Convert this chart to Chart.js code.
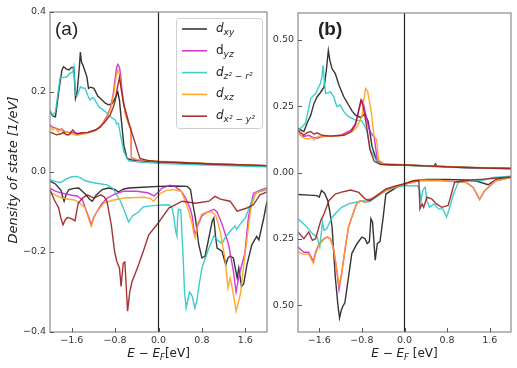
<!DOCTYPE html>
<html>
<head>
<meta charset="utf-8">
<script src="https://cdn.jsdelivr.net/npm/chart.js@4"></script>
<style>
  body { margin: 0; background: #fff; width: 517px; height: 368px; position: relative; overflow: hidden; }
  #chartA { position: absolute; left: 0; top: 0; }
  #chartB { position: absolute; left: 270px; top: 0; }
</style>
</head>
<body>
<canvas id="chartA" width="270" height="368"></canvas>
<canvas id="chartB" width="247" height="368"></canvas>
<script>
// axes
const xTicks = [-1.6, -0.8, 0.0, 0.8, 1.6];
const yTicksA = [-0.4, -0.2, 0.0, 0.2, 0.4];
const yTicksB = [-0.5, -0.25, 0.0, 0.25, 0.5];

// legend entries: d + subscript
const orbitals = [
  { main: 'd', sub: 'xy', italic: true, color: 'rgba(25,25,25,0.88)' },
  { main: 'd', sub: 'yz', italic: false, color: 'rgba(210,30,210,0.88)' },
  { main: 'd', sub: 'z² − r²', italic: true, color: 'rgba(40,200,200,0.9)' },
  { main: 'd', sub: 'xz', italic: true, color: 'rgba(255,160,20,0.9)' },
  { main: 'd', sub: 'x² − y²', italic: true, color: 'rgba(150,25,25,0.88)' }
];

// ---- panel (a), spin up  [E - EF, DOS] ----
const aXyUp = [[-2.0,0.151],[-1.95,0.14],[-1.90,0.138],[-1.84,0.2],[-1.78,0.255],[-1.75,0.263],[-1.70,0.258],[-1.65,0.255],[-1.6,0.262],[-1.56,0.26],[-1.53,0.184],[-1.50,0.2],[-1.46,0.26],[-1.44,0.30],[-1.42,0.275],[-1.39,0.266],[-1.35,0.25],[-1.32,0.238],[-1.29,0.209],[-1.25,0.212],[-1.19,0.209],[-1.12,0.19],[-1.04,0.18],[-0.98,0.172],[-0.92,0.168],[-0.86,0.17],[-0.83,0.176],[-0.78,0.19],[-0.75,0.20],[-0.72,0.18],[-0.70,0.151],[-0.64,0.068],[-0.58,0.034],[-0.5,0.03],[-0.2,0.027],[0.0,0.025],[0.5,0.022],[1.0,0.019],[1.5,0.017],[2.0,0.015]];
const aYzUp = [[-2.0,0.118],[-1.95,0.112],[-1.88,0.109],[-1.82,0.105],[-1.79,0.108],[-1.72,0.1],[-1.65,0.099],[-1.5,0.097],[-1.42,0.097],[-1.3,0.099],[-1.16,0.105],[-1.08,0.112],[-1.01,0.126],[-0.95,0.14],[-0.89,0.159],[-0.84,0.19],[-0.80,0.234],[-0.77,0.262],[-0.75,0.269],[-0.72,0.262],[-0.70,0.245],[-0.67,0.2],[-0.61,0.145],[-0.55,0.12],[-0.51,0.11],[-0.50,0.035],[-0.4,0.03],[0.0,0.026],[0.5,0.023],[1.0,0.02],[1.5,0.018],[2.0,0.016]];
const aCyUp = [[-2.0,0.155],[-1.95,0.142],[-1.90,0.15],[-1.85,0.2],[-1.81,0.238],[-1.75,0.236],[-1.69,0.238],[-1.63,0.247],[-1.58,0.25],[-1.56,0.263],[-1.53,0.193],[-1.50,0.19],[-1.44,0.213],[-1.40,0.21],[-1.35,0.209],[-1.30,0.19],[-1.26,0.18],[-1.22,0.186],[-1.19,0.184],[-1.10,0.163],[-0.98,0.151],[-0.89,0.138],[-0.80,0.13],[-0.77,0.12],[-0.74,0.122],[-0.70,0.093],[-0.64,0.051],[-0.55,0.028],[-0.3,0.024],[0.0,0.022],[0.5,0.019],[1.0,0.017],[1.5,0.015],[2.0,0.013]];
const aXzUp = [[-2.0,0.115],[-1.95,0.105],[-1.9,0.11],[-1.85,0.1],[-1.8,0.107],[-1.75,0.097],[-1.68,0.1],[-1.6,0.095],[-1.5,0.092],[-1.4,0.095],[-1.3,0.097],[-1.16,0.104],[-1.05,0.118],[-0.95,0.135],[-0.88,0.16],[-0.82,0.2],[-0.78,0.24],[-0.75,0.255],[-0.72,0.245],[-0.68,0.2],[-0.6,0.14],[-0.55,0.12],[-0.51,0.11],[-0.50,0.036],[-0.4,0.031],[0.0,0.027],[0.5,0.024],[1.0,0.021],[1.5,0.018],[2.0,0.016]];
const aX2Up = [[-2.0,0.10],[-1.95,0.097],[-1.88,0.093],[-1.8,0.095],[-1.75,0.099],[-1.7,0.093],[-1.65,0.093],[-1.58,0.105],[-1.54,0.098],[-1.5,0.095],[-1.4,0.098],[-1.3,0.099],[-1.16,0.105],[-1.08,0.112],[-1.01,0.122],[-0.95,0.132],[-0.89,0.143],[-0.84,0.16],[-0.80,0.176],[-0.76,0.21],[-0.72,0.236],[-0.69,0.21],[-0.64,0.168],[-0.58,0.14],[-0.52,0.109],[-0.47,0.09],[-0.42,0.068],[-0.38,0.05],[-0.34,0.034],[-0.2,0.029],[0.0,0.026],[0.5,0.023],[1.0,0.02],[1.5,0.018],[2.0,0.016]];

// ---- panel (a), spin down ----
const aXyDn = [[-2.0,-0.023],[-1.9,-0.03],[-1.8,-0.045],[-1.76,-0.065],[-1.74,-0.073],[-1.70,-0.055],[-1.65,-0.044],[-1.55,-0.041],[-1.47,-0.04],[-1.35,-0.055],[-1.27,-0.068],[-1.22,-0.073],[-1.15,-0.058],[-1.04,-0.044],[-0.92,-0.04],[-0.8,-0.044],[-0.74,-0.05],[-0.65,-0.043],[-0.55,-0.04],[-0.3,-0.038],[0.0,-0.036],[0.3,-0.035],[0.53,-0.036],[0.59,-0.044],[0.62,-0.07],[0.68,-0.115],[0.74,-0.18],[0.80,-0.215],[0.86,-0.21],[0.92,-0.17],[0.99,-0.123],[1.02,-0.115],[1.05,-0.16],[1.08,-0.19],[1.17,-0.198],[1.24,-0.232],[1.28,-0.215],[1.32,-0.21],[1.38,-0.215],[1.45,-0.265],[1.48,-0.24],[1.53,-0.286],[1.57,-0.28],[1.63,-0.232],[1.72,-0.182],[1.81,-0.161],[1.85,-0.17],[1.94,-0.115],[2.0,-0.073]];
const aYzDn = [[-2.0,-0.041],[-1.9,-0.048],[-1.8,-0.052],[-1.7,-0.055],[-1.6,-0.058],[-1.5,-0.06],[-1.4,-0.07],[-1.35,-0.09],[-1.28,-0.115],[-1.24,-0.132],[-1.2,-0.115],[-1.14,-0.1],[-1.05,-0.08],[-0.94,-0.065],[-0.8,-0.055],[-0.64,-0.048],[-0.4,-0.048],[-0.2,-0.052],[-0.08,-0.06],[0.0,-0.05],[0.06,-0.041],[0.21,-0.033],[0.3,-0.036],[0.42,-0.048],[0.5,-0.065],[0.58,-0.09],[0.62,-0.11],[0.66,-0.15],[0.68,-0.155],[0.72,-0.135],[0.80,-0.11],[0.9,-0.1],[1.02,-0.093],[1.08,-0.1],[1.17,-0.13],[1.29,-0.18],[1.38,-0.247],[1.43,-0.30],[1.49,-0.255],[1.59,-0.205],[1.66,-0.11],[1.75,-0.053],[1.90,-0.044],[2.0,-0.04]];
const aCyDn = [[-2.0,-0.02],[-1.9,-0.024],[-1.8,-0.026],[-1.7,-0.017],[-1.6,-0.012],[-1.5,-0.011],[-1.42,-0.016],[-1.35,-0.022],[-1.2,-0.027],[-1.05,-0.03],[-0.95,-0.032],[-0.85,-0.04],[-0.78,-0.055],[-0.70,-0.073],[-0.62,-0.1],[-0.57,-0.118],[-0.55,-0.125],[-0.48,-0.11],[-0.37,-0.1],[-0.28,-0.087],[-0.1,-0.084],[0.0,-0.083],[0.19,-0.082],[0.25,-0.09],[0.28,-0.11],[0.32,-0.15],[0.34,-0.16],[0.35,-0.12],[0.37,-0.093],[0.41,-0.095],[0.45,-0.2],[0.48,-0.30],[0.51,-0.34],[0.54,-0.32],[0.57,-0.30],[0.62,-0.31],[0.67,-0.34],[0.71,-0.32],[0.74,-0.29],[0.80,-0.24],[0.93,-0.19],[1.02,-0.16],[1.11,-0.173],[1.17,-0.178],[1.25,-0.16],[1.32,-0.148],[1.41,-0.135],[1.44,-0.143],[1.52,-0.128],[1.60,-0.115],[1.72,-0.073],[1.81,-0.049],[2.0,-0.045]];
const aXzDn = [[-2.0,-0.05],[-1.9,-0.058],[-1.78,-0.065],[-1.65,-0.068],[-1.55,-0.07],[-1.45,-0.078],[-1.35,-0.09],[-1.28,-0.12],[-1.24,-0.136],[-1.2,-0.118],[-1.14,-0.1],[-1.01,-0.078],[-0.83,-0.07],[-0.63,-0.065],[-0.27,-0.063],[-0.15,-0.066],[-0.09,-0.073],[-0.03,-0.063],[0.04,-0.0525],[0.15,-0.046],[0.27,-0.044],[0.42,-0.048],[0.47,-0.065],[0.55,-0.095],[0.62,-0.13],[0.66,-0.16],[0.68,-0.165],[0.72,-0.13],[0.80,-0.105],[0.9,-0.1],[0.99,-0.10],[1.06,-0.11],[1.14,-0.15],[1.23,-0.22],[1.28,-0.29],[1.32,-0.265],[1.36,-0.29],[1.43,-0.348],[1.51,-0.305],[1.60,-0.2],[1.70,-0.093],[1.79,-0.0525],[2.0,-0.044]];
const aX2Dn = [[-2.0,-0.044],[-1.92,-0.07],[-1.84,-0.09],[-1.8,-0.115],[-1.76,-0.132],[-1.72,-0.12],[-1.68,-0.114],[-1.62,-0.116],[-1.59,-0.118],[-1.54,-0.122],[-1.48,-0.078],[-1.40,-0.065],[-1.31,-0.057],[-1.24,-0.062],[-1.18,-0.065],[-1.07,-0.057],[-1.0,-0.062],[-0.95,-0.073],[-0.87,-0.132],[-0.81,-0.198],[-0.77,-0.223],[-0.72,-0.24],[-0.69,-0.286],[-0.65,-0.228],[-0.62,-0.225],[-0.57,-0.348],[-0.53,-0.3],[-0.49,-0.275],[-0.37,-0.233],[-0.28,-0.198],[-0.18,-0.157],[-0.03,-0.132],[0.19,-0.09],[0.44,-0.073],[0.68,-0.078],[0.93,-0.073],[1.04,-0.061],[1.14,-0.068],[1.32,-0.073],[1.45,-0.098],[1.63,-0.09],[1.75,-0.082],[1.87,-0.057],[2.0,-0.05]];

// ---- panel (b), spin up ----
const bXyUp = [[-2.0,0.167],[-1.95,0.16],[-1.89,0.154],[-1.82,0.19],[-1.76,0.216],[-1.70,0.26],[-1.64,0.285],[-1.58,0.30],[-1.51,0.322],[-1.47,0.38],[-1.43,0.459],[-1.40,0.42],[-1.36,0.39],[-1.30,0.372],[-1.23,0.328],[-1.14,0.285],[-1.05,0.254],[-0.98,0.23],[-0.92,0.216],[-0.83,0.207],[-0.74,0.22],[-0.68,0.19],[-0.61,0.098],[-0.52,0.042],[-0.37,0.03],[0.0,0.028],[0.55,0.024],[0.58,0.032],[0.61,0.024],[1.0,0.02],[1.5,0.017],[2.0,0.015]];
const bYzUp = [[-2.0,0.154],[-1.95,0.14],[-1.89,0.135],[-1.8,0.14],[-1.72,0.132],[-1.64,0.129],[-1.55,0.135],[-1.4,0.137],[-1.2,0.14],[-1.0,0.16],[-0.92,0.185],[-0.84,0.248],[-0.80,0.272],[-0.76,0.25],[-0.71,0.2],[-0.66,0.16],[-0.6,0.14],[-0.57,0.135],[-0.52,0.06],[-0.46,0.035],[-0.3,0.03],[0.0,0.028],[0.5,0.024],[1.0,0.02],[1.5,0.017],[2.0,0.015]];
const bCyUp = [[-2.0,0.16],[-1.93,0.17],[-1.86,0.185],[-1.80,0.24],[-1.76,0.279],[-1.67,0.297],[-1.58,0.335],[-1.55,0.36],[-1.53,0.403],[-1.50,0.33],[-1.48,0.297],[-1.39,0.303],[-1.33,0.285],[-1.27,0.248],[-1.21,0.254],[-1.14,0.229],[-1.05,0.21],[-0.92,0.197],[-0.80,0.194],[-0.71,0.16],[-0.64,0.086],[-0.52,0.042],[-0.4,0.03],[0.0,0.027],[0.5,0.022],[1.0,0.019],[1.5,0.016],[2.0,0.014]];
const bXzUp = [[-2.0,0.154],[-1.95,0.14],[-1.89,0.129],[-1.8,0.125],[-1.74,0.132],[-1.70,0.122],[-1.62,0.137],[-1.5,0.137],[-1.3,0.137],[-1.14,0.14],[-0.98,0.154],[-0.89,0.172],[-0.80,0.21],[-0.76,0.28],[-0.73,0.316],[-0.69,0.304],[-0.63,0.235],[-0.57,0.135],[-0.52,0.122],[-0.49,0.048],[-0.40,0.034],[0.0,0.029],[0.5,0.025],[1.0,0.021],[1.5,0.018],[2.0,0.016]];
const bX2Up = [[-2.0,0.16],[-1.95,0.15],[-1.89,0.14],[-1.83,0.15],[-1.76,0.154],[-1.70,0.144],[-1.64,0.149],[-1.55,0.14],[-1.39,0.137],[-1.14,0.14],[-1.0,0.154],[-0.92,0.179],[-0.86,0.235],[-0.82,0.272],[-0.78,0.254],[-0.71,0.172],[-0.65,0.086],[-0.57,0.042],[-0.45,0.03],[0.0,0.028],[0.5,0.024],[1.0,0.02],[1.5,0.017],[2.0,0.015]];

// ---- panel (b), spin down ----
const bXyDn = [[-2.0,-0.083],[-1.8,-0.085],[-1.64,-0.087],[-1.6,-0.093],[-1.56,-0.068],[-1.50,-0.078],[-1.44,-0.106],[-1.40,-0.15],[-1.36,-0.205],[-1.30,-0.392],[-1.25,-0.5],[-1.22,-0.547],[-1.19,-0.52],[-1.16,-0.504],[-1.12,-0.49],[-1.05,-0.392],[-0.99,-0.305],[-0.89,-0.267],[-0.80,-0.243],[-0.74,-0.249],[-0.70,-0.267],[-0.66,-0.26],[-0.63,-0.174],[-0.60,-0.187],[-0.55,-0.33],[-0.51,-0.267],[-0.46,-0.26],[-0.40,-0.168],[-0.35,-0.081],[-0.15,-0.056],[0.0,-0.044],[0.2,-0.03],[0.42,-0.026],[0.8,-0.026],[1.1,-0.028],[1.35,-0.032],[1.57,-0.046],[1.73,-0.025],[2.0,-0.017]];
const bYzDn = [[-2.0,-0.28],[-1.95,-0.29],[-1.89,-0.3],[-1.80,-0.3],[-1.71,-0.335],[-1.67,-0.3],[-1.61,-0.27],[-1.51,-0.249],[-1.45,-0.243],[-1.39,-0.25],[-1.34,-0.28],[-1.28,-0.355],[-1.23,-0.441],[-1.18,-0.38],[-1.11,-0.28],[-1.05,-0.205],[-0.99,-0.168],[-0.90,-0.118],[-0.83,-0.106],[-0.74,-0.112],[-0.66,-0.1],[-0.61,-0.099],[-0.52,-0.087],[-0.35,-0.068],[-0.15,-0.053],[0.0,-0.044],[0.3,-0.029],[0.67,-0.03],[1.16,-0.037],[1.29,-0.056],[1.41,-0.102],[1.50,-0.07],[1.71,-0.031],[2.0,-0.019]];
const bCyDn = [[-2.0,-0.174],[-1.86,-0.199],[-1.73,-0.23],[-1.64,-0.243],[-1.59,-0.28],[-1.54,-0.187],[-1.51,-0.218],[-1.46,-0.212],[-1.36,-0.168],[-1.27,-0.149],[-1.18,-0.131],[-1.05,-0.118],[-0.92,-0.112],[-0.76,-0.106],[-0.68,-0.112],[-0.53,-0.093],[-0.35,-0.068],[-0.16,-0.056],[0.0,-0.05],[0.24,-0.05],[0.28,-0.062],[0.31,-0.106],[0.34,-0.07],[0.36,-0.062],[0.39,-0.056],[0.42,-0.106],[0.47,-0.131],[0.55,-0.118],[0.64,-0.137],[0.72,-0.137],[0.79,-0.168],[0.85,-0.131],[0.92,-0.081],[1.01,-0.037],[1.23,-0.031],[1.45,-0.03],[1.66,-0.019],[2.0,-0.014]];
const bXzDn = [[-2.0,-0.3],[-1.89,-0.308],[-1.80,-0.306],[-1.71,-0.342],[-1.67,-0.306],[-1.61,-0.274],[-1.51,-0.249],[-1.45,-0.243],[-1.39,-0.249],[-1.34,-0.28],[-1.28,-0.354],[-1.23,-0.423],[-1.18,-0.38],[-1.11,-0.28],[-1.05,-0.205],[-0.99,-0.168],[-0.90,-0.118],[-0.83,-0.106],[-0.74,-0.112],[-0.61,-0.099],[-0.52,-0.087],[-0.35,-0.068],[-0.15,-0.053],[0.0,-0.044],[0.3,-0.029],[0.67,-0.03],[1.16,-0.037],[1.29,-0.056],[1.41,-0.1],[1.50,-0.068],[1.71,-0.031],[2.0,-0.019]];
const bX2Dn = [[-2.0,-0.224],[-1.89,-0.249],[-1.80,-0.224],[-1.73,-0.255],[-1.67,-0.249],[-1.57,-0.18],[-1.51,-0.155],[-1.42,-0.106],[-1.30,-0.081],[-1.20,-0.075],[-1.01,-0.066],[-0.86,-0.075],[-0.74,-0.099],[-0.65,-0.106],[-0.52,-0.087],[-0.35,-0.062],[-0.15,-0.05],[0.0,-0.042],[0.17,-0.031],[0.27,-0.031],[0.29,-0.137],[0.33,-0.118],[0.36,-0.131],[0.42,-0.093],[0.51,-0.099],[0.60,-0.118],[0.70,-0.131],[0.82,-0.124],[0.88,-0.081],[0.94,-0.037],[1.16,-0.029],[1.5,-0.025],[2.0,-0.017]];

const FONT = '"DejaVu Sans", sans-serif';

function makeDatasets(up, down) {
  const sets = [];
  orbitals.forEach((o, i) => {
    [up[i], down[i]].forEach(d => {
      sets.push({
        data: d,
        borderColor: o.color,
        borderWidth: 1.4,
        pointRadius: 0,
        tension: 0,
        fill: false,
        order: orbitals.length - i
      });
    });
  });
  return sets;
}

// mixed text: list of {t, f, dy}
function drawRich(ctx, parts, x, y, align) {
  let w = 0;
  parts.forEach(p => { ctx.font = p.f; w += ctx.measureText(p.t).width; });
  let cx = align === 'center' ? x - w / 2 : x;
  ctx.textBaseline = 'alphabetic';
  ctx.textAlign = 'left';
  parts.forEach(p => {
    ctx.font = p.f;
    ctx.fillText(p.t, cx, y + (p.dy || 0));
    cx += ctx.measureText(p.t).width;
  });
}

const decorPlugin = {
  id: 'decor',
  afterDatasetsDraw(chart, args, opts) {
    const { ctx, chartArea: a, scales } = chart;
    // vertical line at E = EF
    const x0 = scales.x.getPixelForValue(0);
    ctx.save();
    ctx.strokeStyle = '#222';
    ctx.lineWidth = 1.2;
    ctx.beginPath();
    ctx.moveTo(x0, a.top);
    ctx.lineTo(x0, a.bottom);
    ctx.stroke();
    ctx.restore();
  },
  afterDraw(chart, args, opts) {
    const { ctx, chartArea: a, scales } = chart;
    ctx.save();
    // frame
    ctx.strokeStyle = '#8c8c8c';
    ctx.lineWidth = 1.2;
    ctx.strokeRect(a.left, a.top, a.right - a.left, a.bottom - a.top);
    // inward ticks
    ctx.strokeStyle = '#555';
    ctx.lineWidth = 1;
    ctx.beginPath();
    scales.x.ticks.forEach(t => {
      const px = Math.round(scales.x.getPixelForValue(t.value)) + 0.5;
      ctx.moveTo(px, a.bottom);
      ctx.lineTo(px, a.bottom - 4);
    });
    scales.y.ticks.forEach(t => {
      const py = Math.round(scales.y.getPixelForValue(t.value)) + 0.5;
      ctx.moveTo(a.left, py);
      ctx.lineTo(a.left + 4, py);
    });
    ctx.stroke();

    ctx.fillStyle = '#222';
    // panel letter
    ctx.font = (opts.bold ? 'bold ' : '') + '19px "Liberation Sans", sans-serif';
    ctx.textBaseline = 'middle';
    ctx.textAlign = 'left';
    ctx.fillText(opts.letter, a.left + opts.letterDx, 30);

    // x title
    const cx = (a.left + a.right) / 2;
    drawRich(ctx, [
      { t: 'E', f: 'italic 12px ' + FONT },
      { t: ' − ', f: '12px ' + FONT },
      { t: 'E', f: 'italic 12px ' + FONT },
      { t: 'F', f: 'italic 8.5px ' + FONT, dy: 2.5 },
      { t: opts.unitGap ? ' [eV]' : '[eV]', f: '12px ' + FONT }
    ], cx, 357, 'center');

    // y title
    if (opts.yTitle) {
      ctx.save();
      ctx.translate(14, 170);
      ctx.rotate(-Math.PI / 2);
      ctx.font = 'italic 13px ' + FONT;
      ctx.textAlign = 'center';
      ctx.textBaseline = 'middle';
      ctx.fillText(opts.yTitle, 0, 0);
      ctx.restore();
    }

    // legend
    if (opts.legend) {
      const lx = 176, ly = 18, lw = 86, lh = 110;
      ctx.fillStyle = 'rgba(255,255,255,0.85)';
      ctx.strokeStyle = '#d0d0d0';
      ctx.lineWidth = 1;
      ctx.beginPath();
      ctx.roundRect(lx + 0.5, ly + 0.5, lw, lh, 3);
      ctx.fill();
      ctx.stroke();
      orbitals.forEach((o, i) => {
        const yy = 29 + i * 21.8;
        ctx.strokeStyle = o.color;
        ctx.lineWidth = 1.6;
        ctx.beginPath();
        ctx.moveTo(182, yy);
        ctx.lineTo(207, yy);
        ctx.stroke();
        ctx.fillStyle = '#222';
        drawRich(ctx, [
          { t: o.main, f: (o.italic ? 'italic ' : '') + '12px ' + FONT },
          { t: o.sub, f: 'italic 9px ' + FONT, dy: 3 }
        ], 216, yy + 3, 'left');
      });
    }
    ctx.restore();
  }
};

const fmtA = v => (v < 0 ? '−' : '') + Math.abs(v).toFixed(1);
const fmtB = v => Math.abs(v).toFixed(2);
const fmtX = v => (v < 0 ? '−' : '') + Math.abs(v).toFixed(1);

function makeChart(id, datasets, yMin, yMax, yTicks, yFmt, yWidth, pad, decor) {
  return new Chart(document.getElementById(id), {
    type: 'line',
    data: { datasets: datasets },
    options: {
      responsive: false,
      animation: false,
      layout: { padding: pad },
      scales: {
        x: {
          type: 'linear', min: -2, max: 2,
          afterBuildTicks: s => { s.ticks = xTicks.map(v => ({ value: v })); },
          afterFit: s => { s.height = 36; },
          ticks: { callback: fmtX, font: { family: 'DejaVu Sans', size: 9.5 }, color: '#333', padding: 3, maxRotation: 0, autoSkip: false },
          grid: { display: false, drawTicks: false },
          border: { display: false }
        },
        y: {
          type: 'linear', min: yMin, max: yMax,
          afterBuildTicks: s => { s.ticks = yTicks.map(v => ({ value: v })); },
          afterFit: s => { s.width = yWidth; },
          ticks: { callback: yFmt, font: { family: 'DejaVu Sans', size: 9.5 }, color: '#333', padding: 4 },
          grid: { display: false, drawTicks: false },
          border: { display: false }
        }
      },
      plugins: {
        legend: { display: false },
        tooltip: { enabled: false },
        decor: decor
      }
    },
    plugins: [decorPlugin]
  });
}

makeChart('chartA',
  makeDatasets([aXyUp, aYzUp, aCyUp, aXzUp, aX2Up], [aXyDn, aYzDn, aCyDn, aXzDn, aX2Dn]),
  -0.4, 0.4, yTicksA, fmtA, 50, { top: 12, right: 3, left: 0, bottom: 0 },
  { letter: '(a)', bold: false, letterDx: 5, unitGap: false, yTitle: 'Density of state [1/eV]', legend: true });

makeChart('chartB',
  makeDatasets([bXyUp, bYzUp, bCyUp, bXzUp, bX2Up], [bXyDn, bYzDn, bCyDn, bXzDn, bX2Dn]),
  -0.6, 0.6, yTicksB, fmtB, 28, { top: 13, right: 6, left: 0, bottom: 0 },
  { letter: '(b)', bold: true, letterDx: 20, unitGap: true, yTitle: null, legend: false });
</script>
</body>
</html>
